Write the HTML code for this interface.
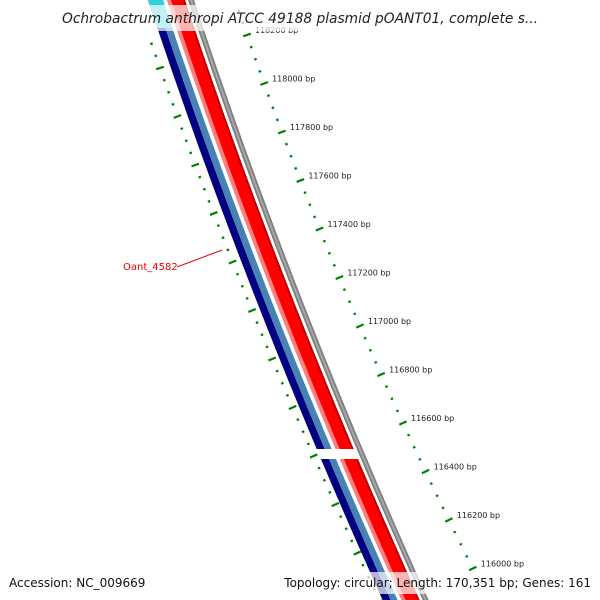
<!DOCTYPE html>
<html><head><meta charset="utf-8"><style>
body{margin:0;background:#fff}
svg{display:block;font-family:"DejaVu Sans","Liberation Sans",sans-serif}
</style></head><body>
<svg id="c" width="600" height="600" viewBox="0 0 600 600">
<g id="bands"></g>
<g id="ticks"></g>
<g>
<line x1="177" y1="267" x2="222" y2="250" stroke="#e00" stroke-width="1"/>
<text x="123" y="270" font-size="10" fill="#e00">Oant_4582</text>
</g>
<rect x="58" y="5" width="484" height="26" fill="#fff" opacity="0.7"/>
<text x="300" y="23" text-anchor="middle" font-size="14" font-style="italic" fill="#222" textLength="476" lengthAdjust="spacingAndGlyphs">Ochrobactrum anthropi ATCC 49188 plasmid pOANT01, complete s...</text>
<rect x="282" y="572" width="312" height="22" fill="#fff" opacity="0.7"/>
<text x="9" y="587" font-size="12" fill="#111">Accession: NC_009669</text>
<text x="591" y="587" text-anchor="end" font-size="12" fill="#111">Topology: circular; Length: 170,351 bp; Genes: 161</text>
</svg>
<script>
const tickBp = [];
for (let b = 116000; b <= 118300; b += 50) tickBp.push(b);
const labelBp = [118200,118000,117800,117600,117400,117200,117000,116800,116600,116400,116200,116000];
const NS = 'http://www.w3.org/2000/svg';
function yOf(bp){ return 35 + (118200 - bp) * 48.5 / 200; }
function outerX(y){ const d = y - 35; return 247 + 0.3455*d + 1.457e-4*d*d; }
function outerS(y){ return 0.3455 + 2*1.457e-4*(y-35); }
function innerX(y){ const d = y - 68; return 160 + 0.3525*d + 1.123e-4*d*d; }
function innerS(y){ return 0.3525 + 2*1.123e-4*(y-68); }
function bandX(y){ return 148 + 0.3304*y + 1.01e-4*y*y; }
const ticks = document.getElementById('ticks');
const bands = document.getElementById('bands');
function mk(tag, attrs, parent){ const e = document.createElementNS(NS, tag); for (const k in attrs) e.setAttribute(k, attrs[k]); parent.appendChild(e); return e; }
function bandPath(o0, o1, y0, y1){
  let pts = [];
  for (let y = y0; y <= y1; y += 10) pts.push([bandX(y)+o0, y]);
  pts.push([bandX(y1)+o0, y1]);
  let back = [];
  for (let y = y1; y >= y0; y -= 10) back.push([bandX(y)+o1, y]);
  back.push([bandX(y0)+o1, y0]);
  return pts.concat(back).map(p => p[0].toFixed(1)+','+p[1].toFixed(1)).join(' ');
}
const bandDefs = [
 ['navy-strand-band', 0, 8, '#000080', true],
 ['steelblue-band', 8, 15, '#4682b4', true],
 ['red-gene-band', 19, 37, '#ff0000', true],
 ['red-shade-band', 19, 23, '#ff8080', true],
 ['red-dark-edge', 35, 37, '#c00000', true],
 ['grey-backbone-band', 40, 46, '#808080', false],
 ['grey-highlight-band', 42, 44, '#a8a8a8', false]
];
bandDefs.forEach(d => {
  const [name, o0, o1, col, gap] = d;
  const segs = gap ? [[0,449],[459,600]] : [[0,600]];
  segs.forEach(s => {
    const p = mk('polygon', {points: bandPath(o0, o1, s[0], s[1]), fill: col}, bands);
    
    
  });
});
const cy = mk('polygon', {points: bandPath(0, 15, 0, 28), fill:'#30d0e0'}, bands);


tickBp.forEach(bp => {
  const major = bp % 200 === 0;
  const len = major ? 8 : 2.5;
  [[yOf(bp), outerX, outerS], [yOf(bp) + 33, innerX, innerS]].forEach(([y, fx, fs]) => {
    if (y < -5 || y > 605) return;
    const x = fx(y), s = fs(y);
    const n = Math.hypot(1, s), dx = 1/n, dy = -s/n;
    const l = mk('line', {x1: x - dx*len/2, y1: y - dy*len/2, x2: x + dx*len/2, y2: y + dy*len/2, stroke: '#008000', 'stroke-width': 2.2}, ticks);
    
    
  });
});
labelBp.forEach(bp => {
  const y = yOf(bp);
  const t = mk('text', {x: outerX(y) + 8, y: y - 2, 'font-size': 8, fill: '#222'}, ticks);
  t.textContent = bp + ' bp';
  
  
});
</script>
</body></html>
